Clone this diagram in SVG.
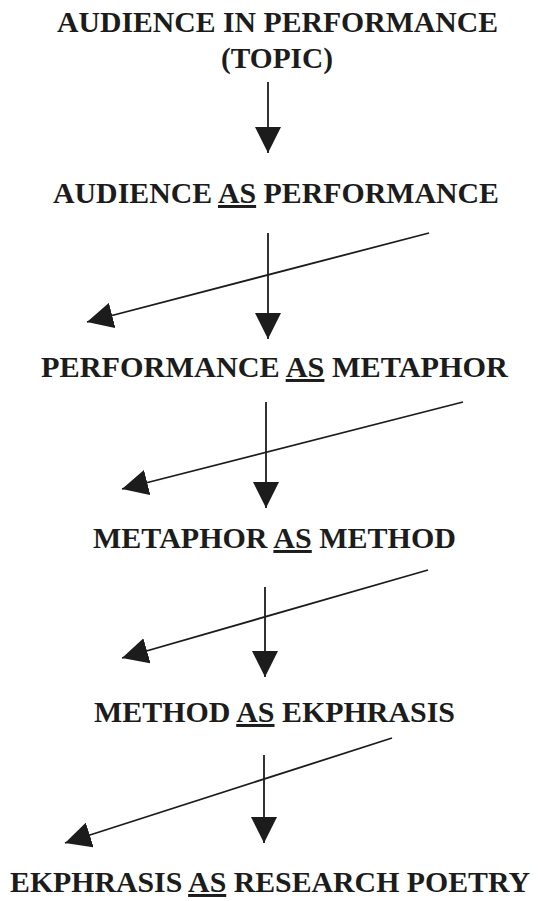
<svg xmlns="http://www.w3.org/2000/svg" width="538" height="901" viewBox="0 0 538 901">
  <style>
    .u { text-decoration: underline; }
    .c { stroke: #1c1c1c; stroke-width: 1.8; fill: none; marker-end: url(#ah); }
  </style>
  <defs>
    <marker id="ah" markerUnits="userSpaceOnUse" markerWidth="26" markerHeight="26" refX="26" refY="13" orient="auto" viewBox="0 0 26 26">
      <path d="M0,0 L26,13 L0,26 z" fill="#1c1c1c"/>
    </marker>
  </defs>
  <rect width="538" height="901" fill="#ffffff"/>
  <g font-family="Liberation Serif" font-weight="bold" font-size="29.7" fill="#1c1c1c" text-anchor="middle">
    <g id="n1">
      <text x="277.5" y="32" textLength="441" lengthAdjust="spacingAndGlyphs">AUDIENCE IN PERFORMANCE</text>
      <text x="277" y="68" textLength="112" lengthAdjust="spacingAndGlyphs">(TOPIC)</text>
    </g>
    <g id="n2">
      <text x="276" y="203" textLength="446" lengthAdjust="spacingAndGlyphs">AUDIENCE <tspan class="u">AS</tspan> PERFORMANCE</text>
    </g>
    <g id="n3">
      <text x="274.5" y="377" textLength="467" lengthAdjust="spacingAndGlyphs">PERFORMANCE <tspan class="u">AS</tspan> METAPHOR</text>
    </g>
    <g id="n4">
      <text x="274.5" y="548" textLength="363" lengthAdjust="spacingAndGlyphs">METAPHOR <tspan class="u">AS</tspan> METHOD</text>
    </g>
    <g id="n5">
      <text x="274.5" y="722" textLength="361" lengthAdjust="spacingAndGlyphs">METHOD <tspan class="u">AS</tspan> EKPHRASIS</text>
    </g>
    <g id="n6">
      <text x="270" y="892" textLength="520" lengthAdjust="spacingAndGlyphs">EKPHRASIS <tspan class="u">AS</tspan> RESEARCH POETRY</text>
    </g>
  </g>
  <g id="connectors">
    <line class="c" x1="268" y1="82" x2="268" y2="153"/>
    <line class="c" x1="268" y1="233" x2="268" y2="339"/>
    <line class="c" x1="429" y1="233" x2="87" y2="322"/>
    <line class="c" x1="266" y1="402" x2="266" y2="508"/>
    <line class="c" x1="463" y1="402" x2="122" y2="489"/>
    <line class="c" x1="265" y1="587" x2="265" y2="677"/>
    <line class="c" x1="428" y1="570" x2="122" y2="658"/>
    <line class="c" x1="264" y1="755" x2="264" y2="843"/>
    <line class="c" x1="392" y1="738" x2="65" y2="843"/>
  </g>
</svg>
